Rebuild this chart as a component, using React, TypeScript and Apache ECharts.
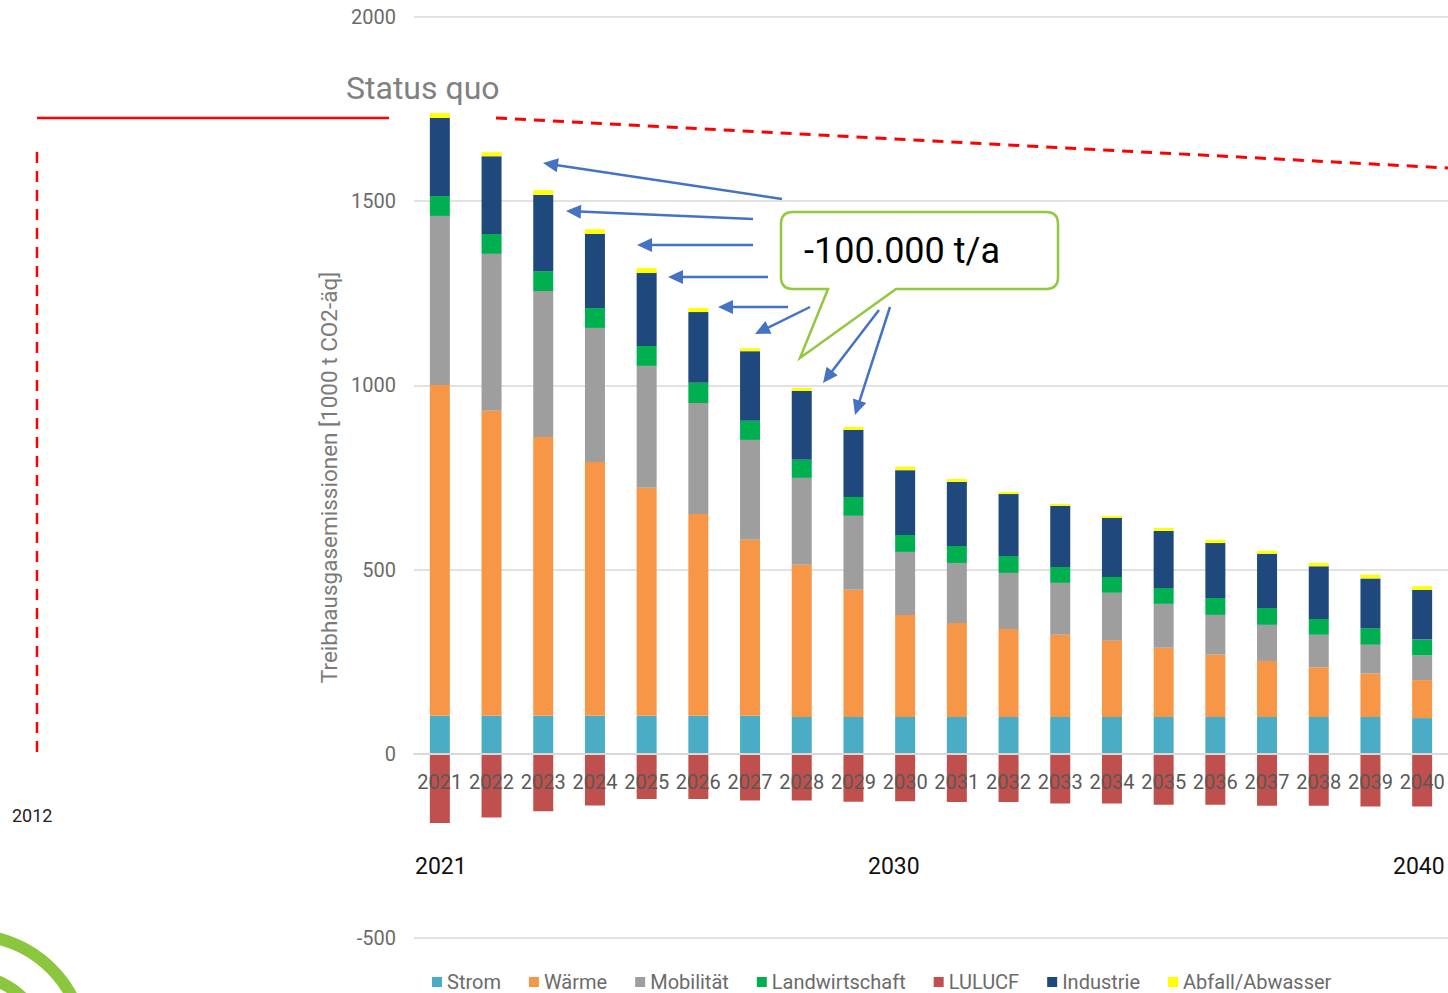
import React, { useEffect, useRef } from "react";
import * as echarts from "echarts";

const years = ["2021","2022","2023","2024","2025","2026","2027","2028","2029","2030","2031","2032","2033","2034","2035","2036","2037","2038","2039","2040"];
const strom = [103,103,103,103,103,103,103,100,100,100,100,100,100,100,100,100,100,100,100,97];
const waerme = [898,828,757,689,619,548,478,413,345,277,255,239,223,207,188,169,152,135,118,103];
const mobilitaet = [459,426,396,364,331,301,271,236,201,171,163,152,141,130,119,108,98,88,78,67];
const landwirtschaft = [54,54,54,54,54,55,52,49,51,46,46,46,43,43,43,46,46,43,45,43];
const lulucf = [-188,-173,-156,-140,-123,-123,-127,-127,-130,-129,-131,-131,-135,-135,-138,-138,-141,-141,-143,-143];
const industrie = [212,211,207,201,198,192,189,187,182,176,174,168,166,160,155,149,147,143,135,135];
const abfall = [13,11,13,13,14,11,8,8,8,9,8,6,5,6,8,9,8,9,10,10];
const yTicks = { min: -500, max: 2000, interval: 500 };

const seriesDefs = [
  { name: "Strom", data: strom, color: "#4BACC6" },
  { name: "Wärme", data: waerme, color: "#F79646" },
  { name: "Mobilität", data: mobilitaet, color: "#9E9E9E" },
  { name: "Landwirtschaft", data: landwirtschaft, color: "#00B050" },
  { name: "LULUCF", data: lulucf, color: "#C0504D" },
  { name: "Industrie", data: industrie, color: "#1F497D" },
  { name: "Abfall/Abwasser", data: abfall, color: "#FFFF00" },
];

const FONT = "Roboto, 'Noto Sans', sans-serif";
const BLUE = "#4472C4";
const GRID_TOP = 17;
const GRID_BOTTOM_Y = 938;

const calloutPath =
  "M 793 212 L 1046 212 Q 1058 212 1058 224 L 1058 277 Q 1058 289 1046 289 L 896 289 L 800 358 L 828 289 L 793 289 Q 781 289 781 277 L 781 224 Q 781 212 793 212 Z";

let registered = false;
function ensureShapes() {
  if (registered) return;
  echarts.graphic.registerShape("callout", echarts.graphic.extendPath(calloutPath, {}));
  registered = true;
}

function arrow(x1: number, y1: number, x2: number, y2: number): any[] {
  const dx = x2 - x1;
  const dy = y2 - y1;
  const len = Math.sqrt(dx * dx + dy * dy);
  const ux = dx / len;
  const uy = dy / len;
  const hl = 15;
  const hw = 7;
  const bx = x2 - ux * hl;
  const by = y2 - uy * hl;
  const px = -uy * hw;
  const py = ux * hw;
  return [
    { type: "line", z: 100, shape: { x1, y1, x2: bx + ux * 2, y2: by + uy * 2 }, style: { stroke: BLUE, lineWidth: 2.5 } },
    { type: "polygon", z: 100, shape: { points: [[x2, y2], [bx + px, by + py], [bx - px, by - py]] }, style: { fill: BLUE } },
  ];
}

export default function App() {
  const ref = useRef<HTMLDivElement>(null);
  useEffect(() => {
    if (!ref.current) return;
    ensureShapes();
    const chart = echarts.init(ref.current, null, { renderer: "svg" });
    const arrows = [
      ...arrow(782, 199, 543, 163),
      ...arrow(753, 219, 566, 211),
      ...arrow(753, 245, 637, 245),
      ...arrow(768, 277, 668, 277),
      ...arrow(788, 307, 718, 307),
      ...arrow(810, 307, 755, 334),
      ...arrow(879, 310, 823, 383),
      ...arrow(890, 307, 855, 415),
    ];
    const gridH = GRID_BOTTOM_Y - GRID_TOP;
    const zeroY = GRID_TOP + (yTicks.max / (yTicks.max - yTicks.min)) * gridH;
    chart.setOption({
      animation: false,
      backgroundColor: "#ffffff",
      grid: { left: 414, right: 0, top: GRID_TOP, bottom: 993 - GRID_BOTTOM_Y, containLabel: false },
      legend: {
        left: 427,
        top: 967,
        icon: "rect",
        itemWidth: 10,
        itemHeight: 10,
        itemGap: 28,
        data: seriesDefs.map((s) => s.name),
        textStyle: { fontFamily: FONT, fontSize: 20, color: "#6b6b6b" },
      },
      xAxis: {
        type: "category",
        data: years,
        z: 10,
        position: "bottom",
        offset: zeroY - GRID_BOTTOM_Y,
        axisLine: { onZero: false, lineStyle: { color: "#d9d9d9", width: 2 } },
        axisTick: { show: false },
        axisLabel: { color: "#595959", fontFamily: FONT, fontSize: 20, margin: 18, interval: 0 },
      },
      yAxis: {
        type: "value",
        min: yTicks.min,
        max: yTicks.max,
        interval: yTicks.interval,
        name: "Treibhausgasemissionen [1000 t CO2-äq]",
        nameLocation: "middle",
        nameGap: 64,
        nameTextStyle: { color: "#7a7a7a", fontFamily: FONT, fontSize: 22.5 },
        axisLine: { show: false },
        axisTick: { show: false },
        axisLabel: { color: "#6b6b6b", fontFamily: FONT, fontSize: 20, margin: 18, formatter: (v: number) => String(v) },
        splitLine: { lineStyle: { color: "#d9d9d9", width: 1.5 } },
      },
      series: seriesDefs.map((s) => ({
        name: s.name,
        type: "bar",
        stack: "total",
        barWidth: 20,
        data: s.data,
        itemStyle: { color: s.color },
      })),
      graphic: [
        { type: "text", z: 100, x: 346, y: 88, style: { text: "Status quo", fontFamily: FONT, fontSize: 32, fill: "#808080", verticalAlign: "middle" } },
        { type: "line", z: 100, shape: { x1: 37, y1: 118, x2: 389, y2: 118 }, style: { stroke: "#FF0000", lineWidth: 2.5 } },
        { type: "line", z: 100, shape: { x1: 496, y1: 118, x2: 1448, y2: 168 }, style: { stroke: "#FF0000", lineWidth: 3, lineDash: [11, 8] } },
        { type: "line", z: 100, shape: { x1: 37, y1: 152, x2: 37, y2: 760 }, style: { stroke: "#FF0000", lineWidth: 2.5, lineDash: [11, 8] } },
        { type: "text", z: 100, x: 12, y: 815, style: { text: "2012", fontFamily: FONT, fontSize: 18, fill: "#222222", verticalAlign: "middle" } },
        { type: "text", z: 100, x: 415, y: 866, style: { text: "2021", fontFamily: FONT, fontSize: 23, fill: "#111111", verticalAlign: "middle" } },
        { type: "text", z: 100, x: 868, y: 866, style: { text: "2030", fontFamily: FONT, fontSize: 23, fill: "#111111", verticalAlign: "middle" } },
        { type: "text", z: 100, x: 1393, y: 866, style: { text: "2040", fontFamily: FONT, fontSize: 23, fill: "#111111", verticalAlign: "middle" } },
        { type: "callout", z: 100, x: 0, y: 0, style: { fill: "#ffffff", stroke: "#92C83E", lineWidth: 2.5 } },
        { type: "text", z: 101, x: 804, y: 251, style: { text: "-100.000 t/a", fontFamily: FONT, fontSize: 36, fill: "#000000", verticalAlign: "middle" } },
        ...arrows,
        { type: "ring", z: 100, shape: { cx: -30, cy: 1050, r: 121, r0: 109 }, style: { fill: "#8CC63F" } },
        { type: "ring", z: 100, shape: { cx: -30, cy: 1050, r: 80, r0: 68 }, style: { fill: "#8CC63F" } },
      ],
    });
    return () => chart.dispose();
  }, []);
  return <div ref={ref} style={{ position: "absolute", left: 0, top: 0, width: 1448, height: 993 }} />;
}
